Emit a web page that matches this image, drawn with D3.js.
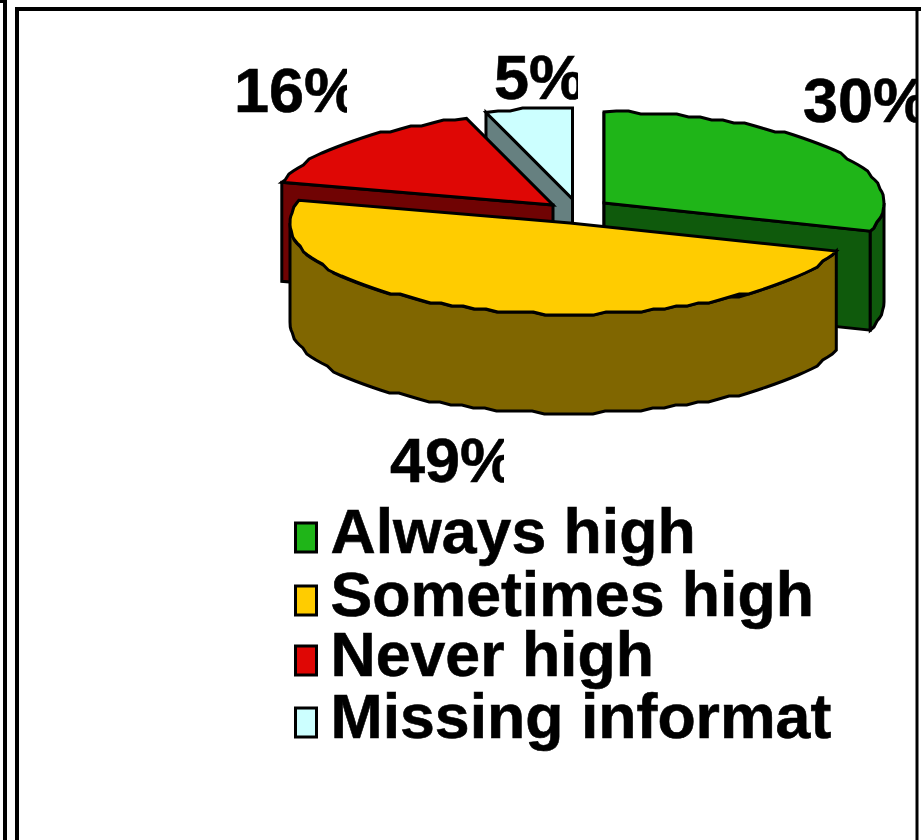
<!DOCTYPE html>
<html><head><meta charset="utf-8">
<script src="https://cdn.jsdelivr.net/npm/d3@7/dist/d3.min.js"></script>
<style>html,body{margin:0;padding:0;background:#fff}svg{display:block}</style>
</head><body><svg id="c" width="921" height="840"></svg>
<script>
const categories = ["Always high","Sometimes high","Never high","Missing information"];
const values = [30,49,16,5];
const valueLabels = ["30%","49%","16%","5%"];
const topColors = ["#1FB518","#FFCC00","#DF0705","#CCFFFF"];
const wallColors = ["#0F5A0C","#806600","#700303","#668080"];

// layout (separate from the data)
const rx = 280, ry = 91, depth = 99;
const explodeCentres = [[604,203],[570,223],[553,205],[572.5,199]];
const labelBoxes = [
  {x:803,y:122,clip:917},{x:390,y:482,clip:504},{x:234,y:112,clip:347},{x:494,y:99,clip:578}
];

const svg = d3.select("#c");
const defs = svg.append("defs");
const pie = d3.pie().sort(null).value(d=>d).startAngle(0).endAngle(2*Math.PI);
const arcs = pie(values);
const sx = d3.scaleLinear().domain([-1,1]).range([-rx,rx]);
const sy = d3.scaleLinear().domain([-1,1]).range([ry,-ry]);
const line = d3.line();
const colorTop = d3.scaleOrdinal().domain(categories).range(topColors);
const colorWall = d3.scaleOrdinal().domain(categories).range(wallColors);

function pt(i,a,dy=0,snap=true){
  const [cx,cy]=explodeCentres[i];
  const x=cx+sx(Math.sin(a)), y=cy+sy(Math.cos(a))+dy;
  return snap?[x, Math.round(y/3)*3]:[x,y];
}
function rim(i,a0,a1,dy=0){
  const n=Math.max(2,Math.round(Math.abs(a1-a0)/(2.5*Math.PI/180)));
  return d3.range(n+1).map(k=>{
    const e=(k===0||k===n);
    return pt(i,a0+(a1-a0)*k/n,dy,!e);
  });
}
const g = svg.append("g");
function poly(pts,fill){
  return g.append("path").attr("d",line(pts)+"Z").attr("fill",fill)
    .attr("stroke","#000").attr("stroke-width",3).attr("stroke-linejoin","miter");
}
function wallCut(i,a){ // straight cut face from tip to rim
  const c=explodeCentres[i], p=pt(i,a,0,false);
  poly([c,p,[p[0],p[1]+depth],[c[0],c[1]+depth]],colorWall(categories[i]));
}
function topFace(i){
  const c=explodeCentres[i];
  poly([c].concat(rim(i,arcs[i].startAngle,arcs[i].endAngle)),colorTop(categories[i]));
}
function outerWall(i,a0,a1){
  poly(rim(i,a0,a1).concat(rim(i,a1,a0,depth)),colorWall(categories[i]));
}
// back to front: missing, red, green, yellow
wallCut(3,arcs[3].startAngle); topFace(3);
wallCut(2,arcs[2].startAngle); topFace(2);
wallCut(0,arcs[0].startAngle); wallCut(0,arcs[0].endAngle);
outerWall(0,Math.PI/2,arcs[0].endAngle); topFace(0);
outerWall(1,arcs[1].startAngle,3*Math.PI/2); topFace(1);

// labels, clipped at the right as in the source
labelBoxes.forEach((b,i)=>{
  defs.append("clipPath").attr("id","lc"+i).append("rect")
    .attr("x",b.x-10).attr("y",b.y-70).attr("width",b.clip-b.x+10).attr("height",90);
  svg.append("text").attr("x",b.x).attr("y",b.y).attr("clip-path",`url(#lc${i})`)
    .attr("font-family","'Liberation Sans',Arial,sans-serif").attr("font-weight",700).attr("font-size",63)
    .attr("stroke","#000").attr("stroke-width",0.6)
    .text(valueLabels[i]);
});

// legend
const legendScale = d3.scaleOrdinal().domain(categories).range([553,616,676,738]);
defs.append("clipPath").attr("id","legclip").append("rect").attr("x",280).attr("y",490).attr("width",552).attr("height",280);
const leg = svg.append("g").attr("clip-path","url(#legclip)").selectAll("g").data(categories).join("g");
leg.append("rect").attr("x",295.5).attr("y",d=>legendScale(d)-30).attr("width",21).attr("height",29)
  .attr("fill",d=>colorTop(d)).attr("stroke","#000").attr("stroke-width",3);
leg.append("text").attr("x",330.5).attr("y",d=>legendScale(d))
  .attr("font-family","'Liberation Sans',Arial,sans-serif").attr("font-weight",700).attr("font-size",62.6)
  .attr("stroke","#000").attr("stroke-width",0.6)
  .text(d=>d);

// frame lines
const frame = svg.append("g").attr("stroke","#000").attr("fill","none");
frame.append("path").attr("stroke-width",4).attr("d","M-2,1H5V840");
frame.append("path").attr("stroke-width",4).attr("d","M17,840V9H921");
frame.append("path").attr("stroke-width",3).attr("d","M917,9V840");
</script></body></html>
